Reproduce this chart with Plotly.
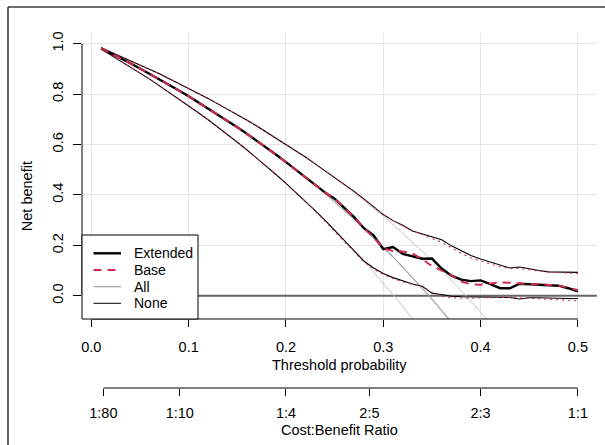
import plotly.graph_objects as go

# ---------------- data ----------------
thresholds = [0.01, 0.02, 0.03, 0.04, 0.05, 0.06, 0.07, 0.08, 0.09, 0.10,
              0.11, 0.12, 0.13, 0.14, 0.15, 0.16, 0.17, 0.18, 0.19, 0.20,
              0.21, 0.22, 0.23, 0.24, 0.25, 0.26, 0.27, 0.28, 0.29, 0.30,
              0.31, 0.32, 0.33, 0.34, 0.35, 0.36, 0.37, 0.38, 0.39, 0.40,
              0.41, 0.42, 0.43, 0.44, 0.45, 0.46, 0.47, 0.48, 0.49, 0.50]

extended = [0.981, 0.962, 0.942, 0.922, 0.901, 0.880, 0.858, 0.836, 0.814, 0.791,
            0.767, 0.743, 0.719, 0.694, 0.668, 0.642, 0.615, 0.587, 0.559, 0.530,
            0.500, 0.469, 0.440, 0.410, 0.385, 0.350, 0.312, 0.268, 0.240, 0.185,
            0.193, 0.166, 0.155, 0.147, 0.148, 0.108, 0.080, 0.064, 0.058, 0.061,
            0.046, 0.030, 0.030, 0.048, 0.046, 0.044, 0.040, 0.040, 0.030, 0.018]
extended_lo = [0.978, 0.955, 0.931, 0.908, 0.883, 0.859, 0.833, 0.807, 0.781, 0.754,
               0.726, 0.698, 0.669, 0.639, 0.609, 0.578, 0.546, 0.514, 0.480, 0.446,
               0.411, 0.375, 0.338, 0.300, 0.260, 0.220, 0.178, 0.138, 0.110, 0.088,
               0.072, 0.058, 0.047, 0.038, 0.010, 0.005, -0.002, -0.004, -0.005, -0.005,
               -0.005, -0.006, -0.007, -0.013, -0.008, -0.008, -0.010, -0.010, -0.011, -0.011]
extended_hi = [0.984, 0.967, 0.951, 0.933, 0.916, 0.898, 0.880, 0.861, 0.842, 0.823,
               0.803, 0.782, 0.761, 0.740, 0.718, 0.696, 0.673, 0.649, 0.625, 0.601,
               0.575, 0.550, 0.523, 0.496, 0.468, 0.442, 0.414, 0.384, 0.352, 0.322,
               0.298, 0.280, 0.257, 0.245, 0.232, 0.222, 0.198, 0.178, 0.160, 0.146,
               0.135, 0.123, 0.110, 0.114, 0.106, 0.100, 0.095, 0.094, 0.093, 0.093]

base = [0.981, 0.962, 0.942, 0.922, 0.901, 0.880, 0.858, 0.836, 0.814, 0.791,
        0.767, 0.743, 0.719, 0.694, 0.668, 0.642, 0.615, 0.587, 0.559, 0.530,
        0.500, 0.469, 0.440, 0.410, 0.385, 0.350, 0.312, 0.268, 0.232, 0.188,
        0.178, 0.176, 0.168, 0.145, 0.118, 0.100, 0.082, 0.056, 0.046, 0.044,
        0.050, 0.053, 0.052, 0.048, 0.046, 0.046, 0.042, 0.040, 0.033, 0.022]
base_lo = [0.978, 0.955, 0.931, 0.908, 0.883, 0.859, 0.833, 0.807, 0.781, 0.754,
           0.726, 0.698, 0.669, 0.639, 0.609, 0.578, 0.546, 0.514, 0.480, 0.446,
           0.411, 0.375, 0.336, 0.295, 0.255, 0.215, 0.173, 0.134, 0.106, 0.084,
           0.069, 0.055, 0.045, 0.036, 0.015, -0.002, -0.008, -0.010, -0.010, -0.008,
           -0.007, -0.006, -0.006, -0.008, -0.010, -0.010, -0.012, -0.014, -0.017, -0.020]
base_hi = [0.984, 0.967, 0.951, 0.933, 0.916, 0.898, 0.880, 0.861, 0.842, 0.823,
           0.803, 0.782, 0.761, 0.740, 0.718, 0.696, 0.673, 0.649, 0.625, 0.601,
           0.575, 0.550, 0.523, 0.496, 0.468, 0.442, 0.414, 0.384, 0.352, 0.322,
           0.298, 0.276, 0.256, 0.243, 0.228, 0.212, 0.190, 0.168, 0.150, 0.137,
           0.126, 0.115, 0.108, 0.108, 0.102, 0.098, 0.094, 0.091, 0.090, 0.089]

treat_all = [0.981, 0.962, 0.942, 0.922, 0.901, 0.880, 0.858, 0.836, 0.814, 0.791,
             0.767, 0.743, 0.719, 0.694, 0.668, 0.642, 0.615, 0.587, 0.559, 0.530,
             0.500, 0.469, 0.438, 0.406, 0.373, 0.339, 0.304, 0.268, 0.231, 0.193,
             0.154, 0.114, 0.073, 0.030, -0.013, -0.059, -0.105]
treat_all_lo = [0.978, 0.955, 0.931, 0.908, 0.883, 0.859, 0.833, 0.807, 0.781, 0.754,
                0.726, 0.698, 0.669, 0.639, 0.609, 0.578, 0.546, 0.514, 0.480, 0.446,
                0.411, 0.375, 0.338, 0.301, 0.262, 0.222, 0.181, 0.139, 0.095, 0.051,
                0.005, -0.042, -0.091, -0.141]
treat_all_hi = [0.984, 0.967, 0.951, 0.933, 0.916, 0.898, 0.880, 0.861, 0.842, 0.823,
                0.803, 0.782, 0.761, 0.740, 0.718, 0.696, 0.673, 0.649, 0.625, 0.601,
                0.575, 0.550, 0.523, 0.496, 0.468, 0.439, 0.409, 0.379, 0.348, 0.316,
                0.283, 0.248, 0.213, 0.177, 0.140, 0.102, 0.062, 0.021, -0.021, -0.065,
                -0.110]
treat_none = [0.0, 0.0]

x_tick_vals = [0.0, 0.1, 0.2, 0.3, 0.4, 0.5]
x_tick_text = ["0.0", "0.1", "0.2", "0.3", "0.4", "0.5"]
y_tick_vals = [0.0, 0.2, 0.4, 0.6, 0.8, 1.0]
y_tick_text = ["0.0", "0.2", "0.4", "0.6", "0.8", "1.0"]
cb_cost = [1, 1, 1, 2, 2, 1]
cb_benefit = [80, 10, 4, 5, 3, 1]
cb_labels = ["1:80", "1:10", "1:4", "2:5", "2:3", "1:1"]
cb_pos = [c / (c + b) for c, b in zip(cb_cost, cb_benefit)]

legend_names = ["Extended", "Base", "All", "None"]

# ---------------- styles ----------------
RED = "#D02B4E"
GRAY_MID = "#A0A0A0"
GRAY_CI = "#C4C4C4"
NONE_COL = "#666666"
FONT = "Liberation Sans, Arial, sans-serif"
FS = 14.5
XR = [-0.0096, 0.5196]
YR = [-0.092, 1.042]
DOM0 = 0.1944

# figure-pixel -> paper helpers (plot paper: x 82..597, y 33..388)
def px(v):
    return (v - 82) / 515.0


def py(v):
    return (388 - v) / 355.0


fig = go.Figure()


def line(x, y, color, width, dash="solid", name=None):
    fig.add_trace(go.Scatter(
        x=x, y=y, mode="lines", name=name, showlegend=False,
        line=dict(color=color, width=width, dash=dash),
        hoverinfo="skip"))


line(XR, treat_none, NONE_COL, 2, name="None")
line(thresholds[:len(treat_all_lo)], treat_all_lo, GRAY_CI, 1)
line(thresholds[:len(treat_all_hi)], treat_all_hi, GRAY_CI, 1)
line(thresholds[:len(treat_all)], treat_all, GRAY_MID, 1.2, name="All")

line(thresholds, extended_lo, "black", 1.1)
line(thresholds, extended_hi, "black", 1.1)
line(thresholds, base_lo, RED, 1.1, dash="2px,4px")
line(thresholds, base_hi, RED, 1.1, dash="2px,4px")
line(thresholds, extended, "black", 2.4, name="Extended")
line(thresholds, base, RED, 2, dash="8px,6px", name="Base")

# invisible trace carrying the cost:benefit axis
fig.add_trace(go.Scatter(x=cb_pos, y=[None] * len(cb_pos), xaxis="x2",
                         mode="lines", showlegend=False, hoverinfo="skip"))

fig.update_layout(
    width=605, height=445,
    margin=dict(l=82, r=8, t=33, b=57, autoexpand=False),
    paper_bgcolor="white", plot_bgcolor="white",
    font=dict(family=FONT, size=FS, color="black"),
    showlegend=False,
    xaxis=dict(range=XR, tickvals=x_tick_vals, ticktext=x_tick_text,
               ticks="outside", ticklen=7, tickcolor="black", tickwidth=1,
               showgrid=True, gridcolor="#E6E6E6", gridwidth=1,
               zeroline=False, showline=False, ticklabelstandoff=8,
               anchor="y"),
    yaxis=dict(domain=[DOM0, 1], range=YR,
               tickvals=y_tick_vals, ticktext=y_tick_text, tickangle=-90,
               ticks="outside", ticklen=8, tickcolor="black", tickwidth=1,
               showgrid=True, gridcolor="#E6E6E6", gridwidth=1,
               zeroline=False, showline=False, ticklabelstandoff=4),
    xaxis2=dict(overlaying="x", anchor="free", position=0, side="bottom",
                range=XR, tickvals=cb_pos, ticktext=cb_labels,
                ticks="outside", ticklen=7, tickcolor="black", tickwidth=1,
                showgrid=False, zeroline=False, showline=False,
                ticklabelstandoff=5),
)

# R-style axis lines spanning only the tick range
fig.add_shape(type="line", xref="x", yref="paper", x0=x_tick_vals[0], x1=x_tick_vals[-1],
              y0=DOM0, y1=DOM0, line=dict(color="black", width=1))
fig.add_shape(type="line", xref="paper", yref="y", x0=0, x1=0,
              y0=y_tick_vals[0], y1=y_tick_vals[-1], line=dict(color="black", width=1))
fig.add_shape(type="line", xref="x", yref="paper", x0=cb_pos[0], x1=cb_pos[-1],
              y0=0, y1=0, line=dict(color="black", width=1))

# outer frame edges (top and left)
fig.add_shape(type="line", xref="paper", yref="paper", x0=px(8), x1=px(606),
              y0=py(7), y1=py(7), line=dict(color="#3A3A3A", width=1.6))
fig.add_shape(type="line", xref="paper", yref="paper", x0=px(8), x1=px(8),
              y0=py(7), y1=py(446), line=dict(color="#3A3A3A", width=1.6))

# ---- legend box (R style, bottom-left of the plot region) ----
fig.add_shape(type="rect", xref="paper", yref="paper",
              x0=px(82), x1=px(198), y0=py(319), y1=py(235),
              fillcolor="white", line=dict(color="black", width=1))
legend_styles = [dict(color="black", width=2.4, dash="solid"),
                 dict(color=RED, width=2, dash="8px,6px"),
                 dict(color=GRAY_MID, width=1.2, dash="solid"),
                 dict(color="black", width=1, dash="solid")]
row_y = [253.3, 270.0, 286.7, 303.3]
for name, style, ry in zip(legend_names, legend_styles, row_y):
    fig.add_shape(type="line", xref="paper", yref="paper",
                  x0=px(93.5), x1=px(121), y0=py(ry), y1=py(ry), line=style)
    fig.add_annotation(text=name, xref="paper", yref="paper", x=px(131.5), y=py(ry),
                       xanchor="left", yanchor="middle", showarrow=False,
                       font=dict(size=14))

# axis titles
fig.add_annotation(text="Threshold probability", xref="paper", yref="paper",
                   x=0.5, y=py(364.5), showarrow=False, yanchor="middle")
fig.add_annotation(text="Cost:Benefit Ratio", xref="paper", yref="paper",
                   x=0.5, y=py(430), showarrow=False, yanchor="middle")
fig.add_annotation(text="Net benefit", xref="paper", yref="paper",
                   x=px(26.7), y=py(196.5), textangle=-90, showarrow=False,
                   xanchor="center", yanchor="middle")

fig.write_html("out.html",
               config={"displayModeBar": False},
               post_script="document.body.style.margin='0px';"
                           "document.body.style.overflow='hidden';")
